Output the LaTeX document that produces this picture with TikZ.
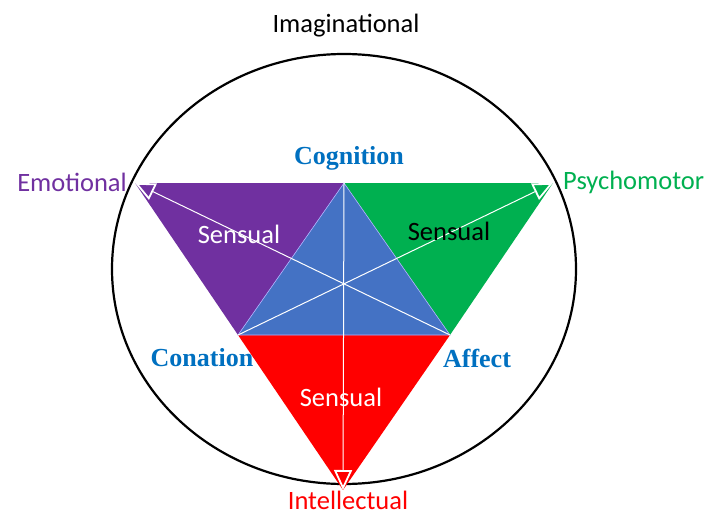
\documentclass[tikz,border=0pt]{standalone}
\usepackage{fontspec}
\setmainfont{Carlito}
\newfontfamily\timesfont{Liberation Serif}
\usetikzlibrary{arrows.meta}
\definecolor{dpurple}{HTML}{7030A0}
\definecolor{dgreen}{HTML}{00B050}
\definecolor{dred}{HTML}{FF0000}
\definecolor{dblue}{HTML}{4472C4}
\definecolor{tblue}{HTML}{0070C0}
\tikzset{
  lbl/.style={font=\fontsize{26.5}{30}\selectfont, inner sep=0pt},
  corner/.style={font=\fontsize{26}{30}\selectfont\timesfont\bfseries, text=tblue, inner sep=0pt},
  axis/.style={draw=white, line width=1pt, -{Triangle[open,length=20pt,width=18pt,line width=1.8pt]}}
}
\def\vtx{\coordinate}

\begin{document}
\begin{tikzpicture}[x=1pt,y=-1pt]
\useasboundingbox (0,0) rectangle (709,516);
% vertices
\vtx (emo) at (135,183);
\vtx (cog) at (344,183);
\vtx (psy) at (553,183);
\vtx (con) at (238,335);
\vtx (aff) at (450,335);
\vtx (int) at (343,490);
% outer circle
\draw[line width=2.2pt] (344,269) ellipse [x radius=232, y radius=215];
% triangles
\fill[dpurple] (emo) -- (cog) -- (con) -- cycle;
\fill[dgreen] (cog) -- (psy) -- (aff) -- cycle;
\fill[dred] (con) -- (aff) -- (int) -- cycle;
\filldraw[fill=dblue, draw=blue!30!white, line width=0.6pt] (cog) -- (con) -- (aff) -- cycle;
% white axes
\draw[axis] (cog) -- (int);
\draw[axis] (aff) -- (emo);
\draw[axis] (con) -- (psy);
% labels
\node[lbl] (imag) at (346,26) {Imaginational};
\node[lbl, text=dpurple, anchor=east] (emol) at (127,182) {Emotional};
\node[lbl, text=dgreen, anchor=west] (psyl) at (563,182) {Psychomotor};
\node[lbl, text=dred] (intl) at (348,500) {Intellectual};
\node[corner] (cogl) at (349,158) {Cognition};
\node[corner] (conl) at (202,358) {Conation};
\node[corner] (affl) at (477,358) {Affect};
\node[lbl, text=white] (sen1) at (239,234) {Sensual};
\node[lbl, text=black] (sen2) at (449,231) {Sensual};
\node[lbl, text=white] (sen3) at (341,397) {Sensual};
\end{tikzpicture}
\end{document}
